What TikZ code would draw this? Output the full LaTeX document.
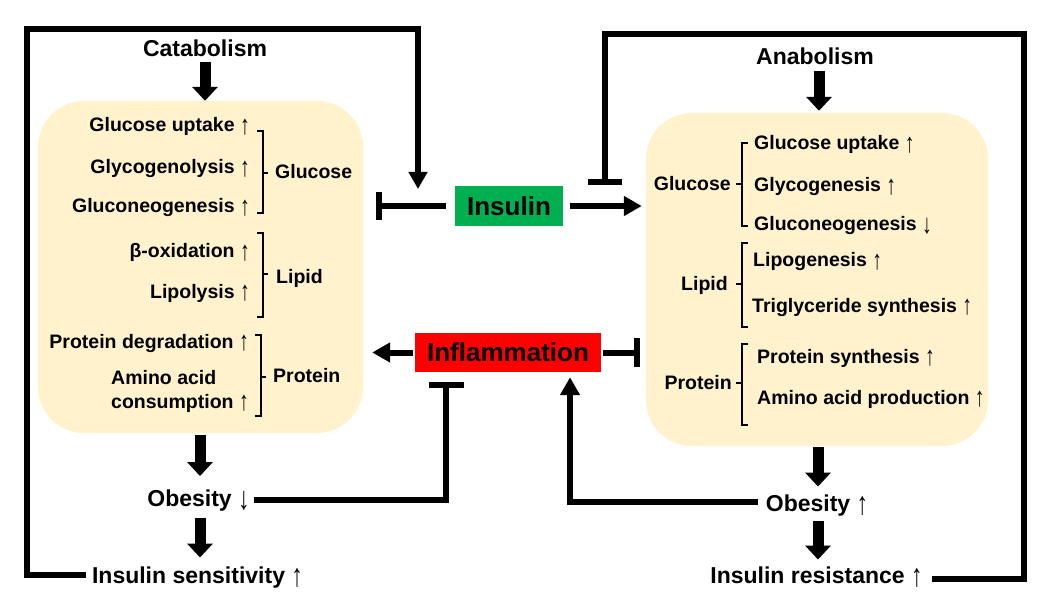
\documentclass[tikz,border=0pt]{standalone}
\usepackage{fontspec}
\setmainfont{Liberation Sans}
\usetikzlibrary{arrows.meta,calc}
\definecolor{boxfill}{HTML}{FFF2CC}
\definecolor{insgreen}{HTML}{00B050}
\definecolor{inflred}{HTML}{FF0000}
\newcommand{\uparr}{{\mdseries\raisebox{-0.14em}{\scalebox{1.0}[1.4]{↑}}}}
\newcommand{\dnarr}{{\mdseries\raisebox{-0.14em}{\scalebox{1.0}[1.4]{↓}}}}
\begin{document}
\begin{tikzpicture}[x=1pt,y=-1pt,
  every node/.style={inner sep=0pt},
  item/.style={font=\fontsize{19.5}{23}\selectfont\bfseries, text height=14pt, text depth=0pt},
  lbl/.style={font=\fontsize{23}{27}\selectfont\bfseries, text height=16.5pt, text depth=0pt},
  keynode/.style={font=\fontsize{26}{30}\selectfont\bfseries, text height=18.6pt, text depth=0pt},
  panel/.style={fill=boxfill, rounded corners=46pt},
  big/.style={line width=11pt, -{Triangle[width=25pt,length=14pt]}},
  conn/.style={line width=6pt, -{Triangle[width=19pt,length=18pt]}},
  inh/.style={line width=6pt},
  loopline/.style={line width=5.5pt},
  brk/.style={line width=2.5pt}]
\fill[white] (0,0) rectangle (1044,604);
\useasboundingbox (0,0) rectangle (1044,604);

% panels
\node[panel, minimum width=325pt, minimum height=332pt] (lbox) at (200.5,267) {};
\node[panel, minimum width=342pt, minimum height=333pt] (rbox) at (817,279.5) {};

% central nodes
\node[keynode, fill=insgreen, minimum width=108pt, minimum height=40pt] (ins) at (509,206) {Insulin};
\node[keynode, fill=inflred, minimum width=186pt, minimum height=39pt] (infl) at (508,352.5) {Inflammation};

% titles and outcomes
\node[lbl] (cat) at (205,48.5) {Catabolism};
\node[lbl] (anab) at (815,56) {Anabolism};
\node[lbl] (lob) at (198.5,498.5) {Obesity \dnarr};
\node[lbl] (lsens) at (197.5,575) {Insulin sensitivity \uparr};
\node[lbl] (rob) at (817,503) {Obesity \uparr};
\node[lbl] (rres) at (816.5,575) {Insulin resistance \uparr};

% left items
\node[item, anchor=east] (l1) at (250,125) {Glucose uptake \uparr};
\node[item, anchor=east] (l2) at (250,167) {Glycogenolysis \uparr};
\node[item, anchor=east] (l3) at (250,206) {Gluconeogenesis \uparr};
\node[item, anchor=east] (l4) at (250,251) {β-oxidation \uparr};
\node[item, anchor=east] (l5) at (250,291) {Lipolysis \uparr};
\node[item, anchor=east] (l6) at (249,341) {Protein degradation \uparr};
\node[item, anchor=east] (l8) at (249,401) {consumption \uparr};
\node[item, anchor=west] (l7) at (l8.west |- 0,377) {Amino acid};
\node[item, anchor=west] (lg) at (275,172) {Glucose};
\node[item, anchor=west] (ll) at (276,276) {Lipid};
\node[item, anchor=west] (lp) at (273,375) {Protein};

% left brackets
\draw[brk] (257,131) -- (263,131) -- (263,213) -- (257,213);
\draw[brk] (263,173) -- (268,173);
\draw[brk] (257,233) -- (263,233) -- (263,317) -- (257,317);
\draw[brk] (263,274) -- (268,274);
\draw[brk] (255,335) -- (261,335) -- (261,416) -- (255,416);
\draw[brk] (261,377) -- (266,377);

% right items
\node[item, anchor=west] (r1) at (754,142.5) {Glucose uptake \uparr};
\node[item, anchor=west] (r2) at (754,185) {Glycogenesis \uparr};
\node[item, anchor=west] (r3) at (754,224) {Gluconeogenesis \dnarr};
\node[item, anchor=west] (r4) at (753,259.5) {Lipogenesis \uparr};
\node[item, anchor=west] (r5) at (752,305) {Triglyceride synthesis \uparr};
\node[item, anchor=west] (r6) at (757,356) {Protein synthesis \uparr};
\node[item, anchor=west] (r7) at (757,397) {Amino acid production \uparr};
\node[item, anchor=east] (rg) at (731,184) {Glucose};
\node[item, anchor=east] (rl) at (728,283.5) {Lipid};
\node[item, anchor=east] (rp) at (732,382.5) {Protein};

% right brackets
\draw[brk] (748,143) -- (742,143) -- (742,226) -- (748,226);
\draw[brk] (736,184) -- (742,184);
\draw[brk] (748,243) -- (742,243) -- (742,327) -- (748,327);
\draw[brk] (736,284) -- (742,284);
\draw[brk] (748,344) -- (742,344) -- (742,425) -- (748,425);
\draw[brk] (736,383) -- (742,383);

% block arrows
\draw[big] ($(cat.south)+(0,5)$) -- (cat.south |- lbox.north);
\draw[big] ($(lbox.south)+(-0.5,2)$) -- ($(lob.north -| lbox.south)+(-0.5,-14)$);
\draw[big] ($(lob.south -| lbox.south)+(-0.5,11)$) -- ($(lsens.north -| lbox.south)+(-0.5,-9)$);
\draw[big] ($(anab.south)+(4,7)$) -- ($(rbox.north)+(2,-2)$);
\draw[big] ($(rbox.south)+(1,1)$) -- ($(rob.north -| rbox.south)+(1,-8)$);
\draw[big] ($(rob.south -| rbox.south)+(1,10)$) -- ($(rres.north -| rbox.south)+(1,-7)$);

% feedback loops
\coordinate (ltip) at (418,189);
\coordinate (rtip) at (605,185);
\draw[loopline, -{Triangle[width=18pt,length=17pt]}]
  ($(lsens.west)+(-6,0)$) -| (27,29) -| (ltip);
\draw[loopline, -{Bar[width=34pt]}]
  ($(rres.east)+(9,4)$) -| (1024,34) -| (rtip);

% insulin connectors
\draw[inh, -{Bar[width=28pt]}] ($(ins.west)+(-9,0)$) -- ($(lbox.east |- ins)+(13,0)$);
\draw[conn] ($(ins.east)+(7,0)$) -- ($(rbox.west |- ins)+(-4,0)$);

% inflammation connectors
\draw[conn] ($(infl.west)+(-2,0)$) -- ($(lbox.east |- infl)+(9,0)$);
\draw[inh, -{Bar[width=29pt]}] ($(infl.east)+(2,0)$) -- ($(rbox.west |- infl)+(-6,0)$);
\draw[inh, -{Bar[width=35pt]}] ($(lob.east)+(4,1.5)$) -| ($(infl.south)+(-62,10)$);
\draw[conn] ($(rob.west)+(-8,-1)$) -| ($(infl.south)+(62,5)$);
\end{tikzpicture}
\end{document}
